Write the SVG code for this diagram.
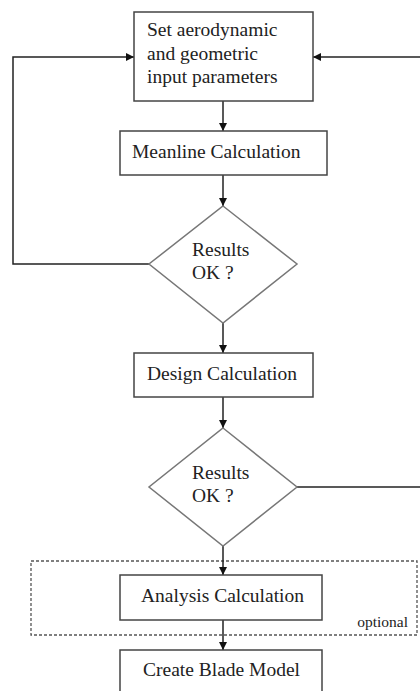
<svg xmlns="http://www.w3.org/2000/svg" width="420" height="691" viewBox="0 0 420 691" font-family="'Liberation Serif', 'Times New Roman', 'DejaVu Serif', serif">
<style>
.box{fill:#fff;stroke:#444;stroke-width:1.5}
.dia{fill:#fff;stroke:#777;stroke-width:1.5}
.ln{fill:none;stroke:#222;stroke-width:1.5}
.dash{fill:none;stroke:#555;stroke-width:1.3;stroke-dasharray:3,2}
.t{font-family:'Liberation Serif','Times New Roman','DejaVu Serif',serif;font-size:19.5px;fill:#222}
.sm{font-size:15.5px}
</style>
<defs>
<marker id="ah" viewBox="0 0 10 10" refX="10" refY="5" markerWidth="8" markerHeight="8" markerUnits="userSpaceOnUse" orient="auto">
<path d="M0,0 L10,5 L0,10 z" fill="#111"/>
</marker>
</defs>
<rect width="420" height="691" fill="#fff"/>
<g id="optional-group">
<rect class="dash" x="31" y="561" width="386" height="74"/>
<text class="t sm" x="408" y="627" text-anchor="end">optional</text>
</g>
<g id="connectors">
<line class="ln" x1="223" y1="101" x2="223" y2="131" marker-end="url(#ah)"/>
<line class="ln" x1="223" y1="175" x2="223" y2="206" marker-end="url(#ah)"/>
<line class="ln" x1="223" y1="323" x2="223" y2="353" marker-end="url(#ah)"/>
<line class="ln" x1="223" y1="397" x2="223" y2="428" marker-end="url(#ah)"/>
<line class="ln" x1="223" y1="546" x2="223" y2="575" marker-end="url(#ah)"/>
<line class="ln" x1="223" y1="620" x2="223" y2="650" marker-end="url(#ah)"/>
<polyline class="ln" points="149,264 13,264 13,57 134,57" marker-end="url(#ah)"/>
<polyline class="ln" points="297,487 420,487"/>
<line class="ln" x1="420" y1="57" x2="313" y2="57" marker-end="url(#ah)"/>
</g>
<g id="n1">
<rect class="box" x="134" y="12" width="179" height="89"/>
<text class="t" x="147" y="36">Set aerodynamic</text>
<text class="t" x="147" y="59.5">and geometric</text>
<text class="t" x="147" y="83">input parameters</text>
</g>
<g id="n2">
<rect class="box" x="120" y="131" width="207" height="44"/>
<text class="t" x="132" y="158">Meanline Calculation</text>
</g>
<g id="d1">
<polygon class="dia" points="223,206 297,264 223,323 149,264"/>
<text class="t" x="192" y="256">Results</text>
<text class="t" x="192" y="279">OK ?</text>
</g>
<g id="n3">
<rect class="box" x="134" y="353" width="179" height="44"/>
<text class="t" x="147" y="380">Design Calculation</text>
</g>
<g id="d2">
<polygon class="dia" points="223,428 297,487 223,546 149,487"/>
<text class="t" x="192" y="479">Results</text>
<text class="t" x="192" y="502">OK ?</text>
</g>
<g id="n4">
<rect class="box" x="120" y="575" width="202" height="45"/>
<text class="t" x="141" y="602">Analysis Calculation</text>
</g>
<g id="n5">
<rect class="box" x="120" y="650" width="202" height="50"/>
<text class="t" x="143" y="676">Create Blade Model</text>
</g>
</svg>
